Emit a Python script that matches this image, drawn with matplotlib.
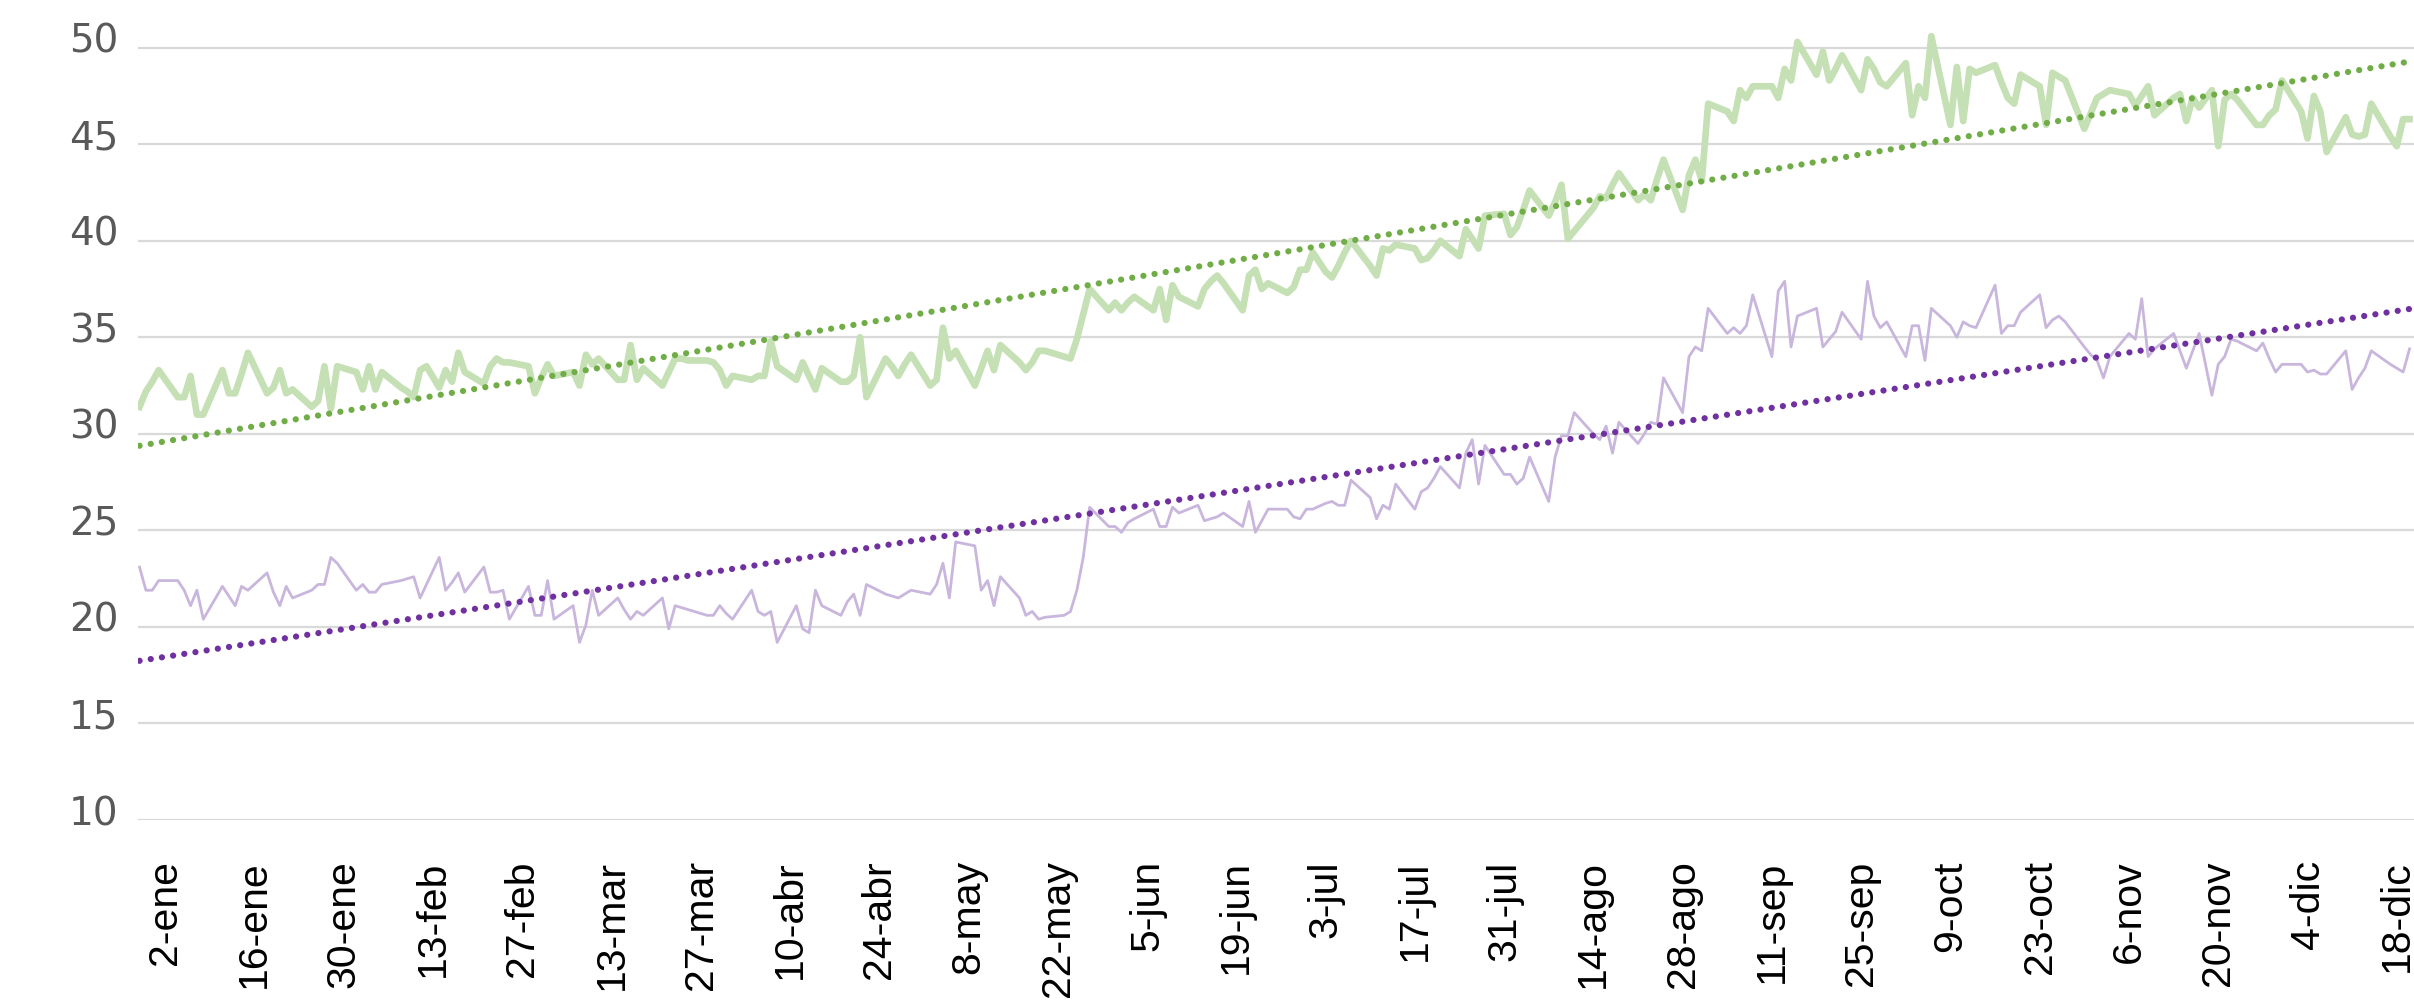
import numpy as np
import matplotlib
matplotlib.use('Agg')
import matplotlib.pyplot as plt
import matplotlib.transforms as mtransforms

# day 0 = 2-ene, one label every 14 days
tick_labels = ['2-ene', '16-ene', '30-ene', '13-feb', '27-feb', '13-mar', '27-mar', '10-abr',
               '24-abr', '8-may', '22-may', '5-jun', '19-jun', '3-jul', '17-jul', '31-jul',
               '14-ago', '28-ago', '11-sep', '25-sep', '9-oct', '23-oct', '6-nov', '20-nov',
               '4-dic', '18-dic']
y_ticks = [10, 15, 20, 25, 30, 35, 40, 45, 50]

green_day = [-4, -3, -2, -1, 2, 3, 4, 5, 6, 9, 10, 11, 12, 13, 16, 17, 18, 19, 20, 23, 24, 25, 26, 27,
             30, 31, 32, 33, 34, 37, 38, 39, 40, 41, 43, 44, 45, 46, 47, 50, 51, 52, 53, 54, 57, 58,
             59, 60, 61, 64, 65, 66, 67, 68, 71, 72, 73, 74, 75, 78, 79, 80, 81, 82, 85, 86, 87, 88,
             89, 92, 93, 94, 95, 96, 99, 100, 101, 102, 103, 106, 107, 108, 109, 110, 113, 114, 115,
             116, 117, 120, 121, 122, 123, 124, 127, 128, 129, 130, 131, 134, 135, 136, 137, 138,
             141, 142, 143, 144, 145, 148, 149, 150, 151, 152, 155, 156, 157, 158, 159, 162, 163,
             164, 165, 166, 169, 170, 171, 172, 173, 176, 177, 178, 179, 180, 182, 183, 184, 185,
             186, 189, 190, 191, 192, 193, 196, 197, 198, 199, 200, 203, 204, 205, 206, 207, 210,
             211, 212, 213, 214, 217, 218, 219, 220, 221, 224, 225, 226, 227, 228, 231, 232, 233,
             234, 235, 238, 239, 240, 241, 242, 245, 246, 247, 248, 249, 252, 253, 254, 255, 256,
             259, 260, 261, 262, 263, 266, 267, 268, 269, 270, 273, 274, 275, 276, 277, 280, 281,
             282, 283, 284, 287, 288, 289, 290, 291, 294, 295, 296, 297, 298, 301, 302, 303, 304,
             305, 308, 309, 310, 311, 312, 315, 316, 317, 318, 319, 321, 322, 323, 324, 325, 328,
             329, 330, 331, 332, 335, 336, 337, 338, 339, 342, 343, 344, 345, 346, 349, 350, 351, 352]
green_val = [31.4, 32.2, 32.7, 33.3, 31.9, 31.9, 33.0, 31.0, 31.0, 33.3, 32.1, 32.1, 33.1, 34.2, 32.1,
             32.4, 33.3, 32.1, 32.3, 31.4, 31.7, 33.5, 31.3, 33.5, 33.2, 32.3, 33.5, 32.3, 33.2, 32.4,
             32.2, 31.9, 33.3, 33.5, 32.4, 33.3, 32.7, 34.2, 33.2, 32.6, 33.5, 33.9, 33.7, 33.7, 33.5,
             32.1, 32.9, 33.6, 33.0, 33.2, 32.5, 34.1, 33.6, 33.9, 32.8, 32.8, 34.6, 32.8, 33.4, 32.5,
             33.2, 33.9, 33.9, 33.8, 33.8, 33.7, 33.3, 32.5, 33.0, 32.8, 33.0, 33.0, 34.8, 33.5, 32.8,
             33.7, 33.0, 32.3, 33.4, 32.7, 32.7, 33.0, 35.0, 31.9, 33.9, 33.5, 33.0, 33.6, 34.1, 32.5,
             32.8, 35.5, 33.9, 34.3, 32.5, 33.4, 34.3, 33.3, 34.6, 33.7, 33.3, 33.7, 34.3, 34.3, 34.0,
             33.9, 34.9, 36.2, 37.5, 36.4, 36.8, 36.4, 36.8, 37.1, 36.4, 37.5, 35.9, 37.7, 37.1, 36.6,
             37.5, 37.9, 38.2, 37.8, 36.4, 38.2, 38.5, 37.5, 37.8, 37.3, 37.6, 38.5, 38.5, 39.4, 38.4,
             38.1, 38.7, 39.4, 40.0, 38.7, 38.2, 39.6, 39.5, 39.8, 39.6, 39.0, 39.1, 39.5, 40.0, 39.2,
             40.6, 40.1, 39.6, 41.3, 41.4, 40.3, 40.7, 41.6, 42.6, 41.3, 42.0, 42.9, 40.1, 40.5, 41.7,
             42.3, 42.2, 42.9, 43.5, 42.1, 42.4, 42.1, 43.2, 44.2, 41.6, 43.4, 44.2, 43.1, 47.1, 46.7,
             46.2, 47.8, 47.4, 48.0, 48.0, 47.4, 48.9, 48.3, 50.3, 48.6, 49.8, 48.3, 48.9, 49.6, 47.8,
             49.4, 48.9, 48.2, 48.0, 49.2, 46.5, 48.0, 47.4, 50.6, 46.0, 49.0, 46.2, 48.9, 48.7, 49.1,
             48.2, 47.4, 47.1, 48.6, 48.0, 46.0, 48.7, 48.5, 48.3, 45.8, 46.6, 47.4, 47.6, 47.8, 47.6,
             47.0, 47.5, 48.0, 46.5, 47.4, 47.6, 46.2, 47.4, 46.9, 47.8, 44.9, 47.3, 47.6, 47.3, 46.0,
             46.0, 46.5, 46.8, 48.3, 46.7, 45.3, 47.5, 46.7, 44.6, 46.4, 45.5, 45.4, 45.5, 47.1, 45.4,
             44.9, 46.3, 46.3]

purple_day = [-4, -3, -2, -1, 2, 3, 4, 5, 6, 9, 10, 11, 12, 13, 16, 17, 18, 19, 20, 23, 24, 25, 26, 27,
              30, 31, 32, 33, 34, 37, 38, 39, 40, 41, 43, 44, 45, 46, 47, 50, 51, 52, 53, 54, 57, 58,
              59, 60, 61, 64, 65, 66, 67, 68, 71, 72, 73, 74, 75, 78, 79, 80, 81, 82, 85, 86, 87, 88,
              89, 92, 93, 94, 95, 96, 99, 100, 101, 102, 103, 106, 107, 108, 109, 110, 113, 114, 115,
              116, 117, 120, 121, 122, 123, 124, 127, 128, 129, 130, 131, 134, 135, 136, 137, 138,
              141, 142, 143, 144, 145, 148, 149, 150, 151, 152, 155, 156, 157, 158, 159, 162, 163,
              164, 165, 166, 169, 170, 171, 172, 173, 176, 177, 178, 179, 180, 182, 183, 184, 185,
              186, 189, 190, 191, 192, 193, 196, 197, 198, 199, 200, 203, 204, 205, 206, 207, 210,
              211, 212, 213, 214, 217, 218, 219, 220, 221, 224, 225, 226, 227, 228, 231, 232, 233,
              234, 235, 238, 239, 240, 241, 242, 245, 246, 247, 248, 249, 252, 253, 254, 255, 256,
              259, 260, 261, 262, 263, 266, 267, 268, 269, 270, 273, 274, 275, 276, 277, 280, 281,
              282, 283, 284, 287, 288, 289, 290, 291, 294, 295, 296, 297, 298, 301, 302, 303, 304,
              305, 308, 309, 310, 311, 312, 315, 316, 317, 318, 319, 321, 322, 323, 324, 325, 328,
              329, 330, 331, 332, 335, 336, 337, 338, 339, 342, 343, 344, 345, 346, 349, 351, 352]
purple_val = [23.1, 21.9, 21.9, 22.4, 22.4, 21.9, 21.1, 21.9, 20.4, 22.1, 21.6, 21.1, 22.1, 21.9, 22.8,
              21.8, 21.1, 22.1, 21.5, 21.9, 22.2, 22.2, 23.6, 23.3, 21.9, 22.2, 21.8, 21.8, 22.2, 22.4,
              22.5, 22.6, 21.5, 22.2, 23.6, 21.9, 22.3, 22.8, 21.8, 23.1, 21.8, 21.8, 21.9, 20.4, 22.1,
              20.6, 20.6, 22.4, 20.4, 21.1, 19.2, 20.1, 21.9, 20.6, 21.5, 20.9, 20.4, 20.8, 20.6, 21.5,
              19.9, 21.1, 21.0, 20.9, 20.6, 20.6, 21.1, 20.7, 20.4, 21.9, 20.8, 20.6, 20.8, 19.2, 21.1,
              19.9, 19.7, 21.9, 21.1, 20.6, 21.3, 21.7, 20.6, 22.2, 21.7, 21.6, 21.5, 21.7, 21.9, 21.7,
              22.2, 23.3, 21.5, 24.4, 24.2, 21.9, 22.4, 21.1, 22.6, 21.5, 20.6, 20.8, 20.4, 20.5, 20.6,
              20.8, 21.9, 23.6, 26.2, 25.2, 25.2, 24.9, 25.4, 25.6, 26.1, 25.2, 25.2, 26.2, 25.9, 26.3,
              25.5, 25.6, 25.7, 25.9, 25.2, 26.5, 24.9, 25.5, 26.1, 26.1, 25.7, 25.6, 26.1, 26.1, 26.4,
              26.5, 26.3, 26.3, 27.6, 26.7, 25.6, 26.3, 26.1, 27.4, 26.1, 27.0, 27.2, 27.7, 28.3, 27.2,
              29.0, 29.7, 27.4, 29.4, 27.9, 27.9, 27.4, 27.7, 28.8, 26.5, 28.8, 29.9, 29.9, 31.1, 30.0,
              29.7, 30.4, 29.0, 30.6, 29.5, 30.0, 30.6, 30.5, 32.9, 31.1, 34.0, 34.5, 34.3, 36.5, 35.2,
              35.5, 35.2, 35.6, 37.2, 34.0, 37.4, 37.9, 34.5, 36.1, 36.5, 34.5, 34.9, 35.3, 36.3, 34.9,
              37.9, 36.1, 35.5, 35.8, 34.0, 35.6, 35.6, 33.8, 36.5, 35.6, 35.0, 35.8, 35.6, 35.5, 37.7,
              35.2, 35.6, 35.6, 36.3, 37.2, 35.5, 35.9, 36.1, 35.8, 34.5, 34.1, 33.8, 32.9, 34.0, 35.2,
              34.9, 37.0, 34.0, 34.4, 35.2, 34.3, 33.4, 34.3, 35.2, 32.0, 33.6, 34.0, 34.9, 34.8, 34.3,
              34.7, 33.9, 33.2, 33.6, 33.6, 33.2, 33.3, 33.1, 33.1, 34.3, 32.3, 32.9, 33.4, 34.3, 33.6,
              33.2, 34.4]

fig = plt.figure(figsize=(24.14, 10.06), dpi=100)
ax = fig.add_axes([138/2414, 186/1006, 1 - 138/2414, 1 - 186/1006])

x_end = 352.7
ax.set_xlim(-4.24, x_end)
ax.set_ylim(10, 52.47)

ax.plot(green_day, green_val, color='#c5e0b4', lw=4.8, zorder=2)
ax.plot(purple_day, purple_val, color='#c9b6dd', lw=2.0, zorder=2)

# linear trend lines, dotted
for days, vals, col in [(green_day, green_val, '#70ad47'), (purple_day, purple_val, '#7030a0')]:
    k = np.polyfit(days, vals, 1)
    xs = np.array([days[0], x_end])
    ax.plot(xs, np.polyval(k, xs), color=col, lw=4.5, linestyle=(0, (0.01, 1.8)),
            dash_capstyle='round', zorder=3)

ax.set_yticks(y_ticks)
ax.set_yticklabels([str(v) for v in y_ticks], family=['DejaVu Sans'], fontsize=28, color='#595959')
ax.set_xticks(np.arange(0, 14 * len(tick_labels), 14))
ax.set_xticklabels(tick_labels, rotation=90, family=['Liberation Sans', 'DejaVu Sans'],
                   fontsize=29.5, color='black')
ax.tick_params(axis='both', length=0)
ax.tick_params(axis='x', pad=29)
ax.tick_params(axis='y', pad=14)
ax.grid(axis='y', color='#d9d9d9', lw=1.6)
ax.set_axisbelow(True)
for s in ax.spines.values():
    s.set_visible(False)

up = mtransforms.ScaledTranslation(0, 0.1, fig.dpi_scale_trans)
for lab in ax.get_yticklabels():
    lab.set_transform(lab.get_transform() + up)

fig.savefig('out.png', dpi=100)
